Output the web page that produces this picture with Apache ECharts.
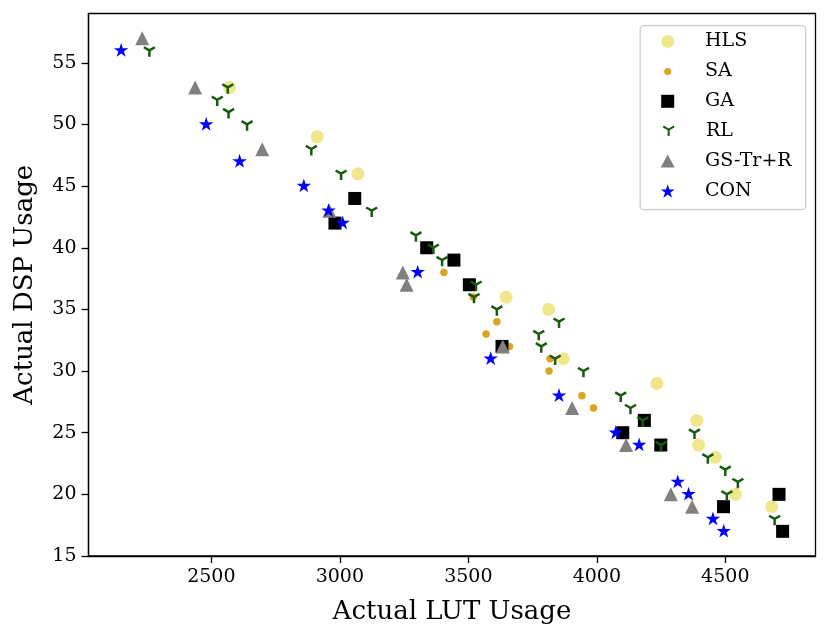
<!DOCTYPE html>
<html><head><meta charset="utf-8">
<script src="https://cdn.jsdelivr.net/npm/echarts@6/dist/echarts.min.js"></script>
<style>html,body{margin:0;padding:0;background:#fff}#c{width:830px;height:639px}</style>
</head><body><div id="c"></div>
<script>
// ---- data (Actual LUT usage, Actual DSP usage) ----
const seriesNames = ['HLS', 'SA', 'GA', 'RL', 'GS-Tr+R', 'CON'];

const hlsLut = [2571, 2912, 3070, 3647, 3812, 3870, 4234, 4389, 4396, 4461, 4539, 4681];
const hlsDsp = [53, 49, 46, 36, 35, 31, 29, 26, 24, 23, 20, 19];

const saLut = [3405, 3519, 3611, 3569, 3660, 3818, 3814, 3942, 3987];
const saDsp = [38, 36, 34, 33, 32, 31, 30, 28, 27];

const gaLut = [3058, 2981, 3338, 3444, 3504, 3631, 4185, 4101, 4249, 4709, 4493, 4723];
const gaDsp = [44, 42, 40, 39, 37, 32, 26, 25, 24, 20, 19, 17];

const rlLut = [2259, 2564, 2523, 2567, 2639, 2889, 3005, 3124, 3296, 3364, 3398, 3530, 3522, 3611, 3853,
               3774, 3784, 3838, 3948, 4093, 4131, 4179, 4380, 4250, 4432, 4500, 4549, 4506, 4692];
const rlDsp = [56, 53, 52, 51, 50, 48, 46, 43, 41, 40, 39, 37, 36, 35, 34,
               33, 32, 31, 30, 28, 27, 26, 25, 24, 23, 22, 21, 20, 18];

const gsLut = [2231, 2437, 2698, 2959, 3245, 3260, 3634, 3904, 4114, 4288, 4371];
const gsDsp = [57, 53, 48, 43, 38, 37, 32, 27, 24, 20, 19];

const conLut = [2149, 2480, 2610, 2860, 2956, 3011, 3303, 3587, 3853, 4074, 4165, 4315, 4357, 4452, 4494];
const conDsp = [56, 50, 47, 45, 43, 42, 38, 31, 28, 25, 24, 21, 20, 18, 17];

const xTicks = [2500, 3000, 3500, 4000, 4500];
const yTicks = [15, 20, 25, 30, 35, 40, 45, 50, 55];

// ---- helpers ----
function pairs(a, b) { return a.map((v, i) => [v, b[i]]); }
function starPath() {
  const pts = [];
  for (let k = 0; k < 10; k++) {
    const r = (k % 2 === 0) ? 10 : 3.81966;
    const ang = -Math.PI / 2 + k * Math.PI / 5;
    pts.push((10 + r * Math.cos(ang)).toFixed(3) + ',' + (10 + r * Math.sin(ang)).toFixed(3));
  }
  return 'path://M' + pts.join('L') + 'Z';
}
const STAR = starPath();
const TRI_DOWN = 'path://M10,10L10,20M10,10L18.66,5M10,10L1.34,5';
const FONT = 'DejaVu Serif';

const styles = [
  { symbol: 'circle', size: 13, color: '#F0E68C', legW: 13, legH: 13 },
  { symbol: 'circle', size: 7.5, color: '#DAA520', legW: 7, legH: 7 },
  { symbol: 'rect', size: 13, color: '#000000', legW: 13, legH: 13 },
  { symbol: TRI_DOWN, size: 11, color: '#1a5a10', legW: 11, legH: 9.5, line: true, offset: [0, 1.5] },
  { symbol: 'triangle', size: 14, color: '#808080', legW: 14, legH: 13 },
  { symbol: STAR, size: 14.5, color: '#0000FF', legW: 14, legH: 13.3, offset: [0, -0.7] }
];
const dataSets = [
  pairs(hlsLut, hlsDsp), pairs(saLut, saDsp), pairs(gaLut, gaDsp),
  pairs(rlLut, rlDsp), pairs(gsLut, gsDsp), pairs(conLut, conDsp)
];

const series = seriesNames.map((name, i) => {
  const s = styles[i];
  return {
    name: name,
    type: 'scatter',
    data: dataSets[i],
    symbol: s.symbol,
    symbolSize: s.size,
    symbolKeepAspect: true,
    symbolOffset: s.offset || [0, 0],
    z: 2 + i * 0.01,
    itemStyle: s.line
      ? { color: 'rgba(0,0,0,0)', borderColor: s.color, borderWidth: 2.5, opacity: 1 }
      : { color: s.color, opacity: 1 },
    emphasis: { disabled: true }
  };
});

const legCenterY0 = 41.5, legStep = 29.9, legIconX = 667.7, legTextX = 705, legLH = 20;
const legends = seriesNames.map((name, i) => {
  const s = styles[i];
  return {
    data: [name],
    left: legIconX - s.legW / 2,
    top: legCenterY0 + i * legStep - legLH / 2,
    padding: 0,
    itemWidth: s.legW,
    itemHeight: s.legH,
    selectedMode: false,
    z: 6,
    textStyle: {
      fontFamily: FONT, fontSize: 19, color: '#000', lineHeight: legLH,
      padding: [0, 0, 0, legTextX - (legIconX + s.legW / 2 + 5)]
    }
  };
});

const chart = echarts.init(document.getElementById('c'), null, { renderer: 'canvas' });
chart.setOption({
  animation: false,
  backgroundColor: '#fff',
  grid: {
    left: 88.5, right: 14.5, top: 13.5, bottom: 83,
    show: true, borderColor: '#000', borderWidth: 1.3, backgroundColor: 'transparent'
  },
  legend: legends,
  graphic: [{
    type: 'rect', z: 5, left: 639.5, top: 25,
    shape: { width: 165.5, height: 184, r: 4 },
    style: { fill: 'rgba(255,255,255,0.8)', stroke: '#cccccc', lineWidth: 1.3 }
  }],
  xAxis: {
    type: 'value', min: 2022, max: 4851,
    name: 'Actual LUT Usage', nameLocation: 'middle', nameGap: 43,
    nameTextStyle: { fontFamily: FONT, fontSize: 26, color: '#000' },
    axisLine: { show: true, lineStyle: { color: '#000', width: 1.3 } },
    axisTick: { show: true, length: 7, lineStyle: { color: '#000', width: 1.3 }, customValues: xTicks },
    axisLabel: { fontFamily: FONT, fontSize: 19, color: '#000', margin: 12, customValues: xTicks,
                 formatter: v => String(v) },
    splitLine: { show: false }
  },
  yAxis: {
    type: 'value', min: 15, max: 59,
    name: 'Actual DSP Usage', nameLocation: 'middle', nameGap: 50,
    nameTextStyle: { fontFamily: FONT, fontSize: 26, color: '#000' },
    axisLine: { show: true, lineStyle: { color: '#000', width: 1.3 } },
    axisTick: { show: true, length: 7, lineStyle: { color: '#000', width: 1.3 }, customValues: yTicks },
    axisLabel: { fontFamily: FONT, fontSize: 19, color: '#000', margin: 12, customValues: yTicks,
                 formatter: v => String(v) },
    splitLine: { show: false }
  },
  series: series
});
</script>
</body></html>
